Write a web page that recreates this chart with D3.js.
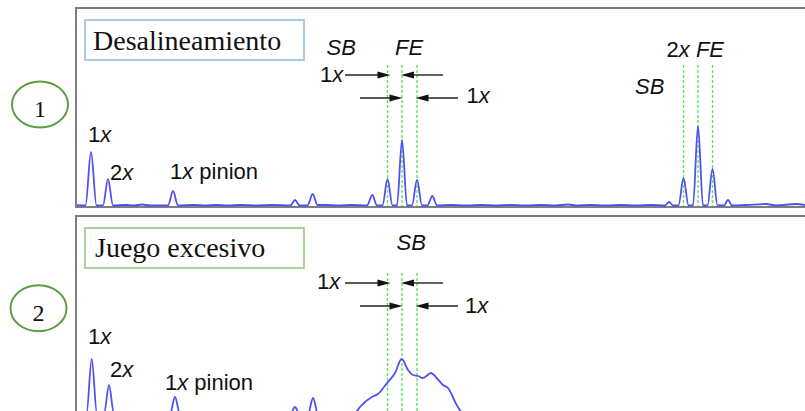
<!DOCTYPE html>
<html lang="es">
<head>
<meta charset="UTF-8">
<title>Desalineamiento y juego excesivo</title>
<script src="https://cdn.jsdelivr.net/npm/d3@7"></script>
<style>
  body { margin: 0; background: #fff; }
  svg { display: block; }
  .frame { fill: none; stroke: #7f7f7f; stroke-width: 2; }
  .spec { fill: none; stroke: #5050f2; stroke-width: 1.8; stroke-linejoin: round; }
  .marker { stroke: #5fe35f; stroke-width: 1.4; stroke-dasharray: 3, 2; }
  .arrow { stroke: #222; stroke-width: 1.4; }
  .head { fill: #111; }
  .lbl { font-family: "Liberation Sans", Arial, sans-serif; font-size: 22px; fill: #111; }
  .it { font-style: italic; }
  .title { font-family: "Liberation Serif", "Times New Roman", serif; font-size: 28px; fill: #111; }
  .num { font-family: "Liberation Serif", "Times New Roman", serif; font-size: 24px; fill: #111; }
</style>
</head>
<body>
<script>
// spectrum points [frequency, amplitude]
var spectrum1 = [
  [0,1],[9.5,0.5],[15,54],[20.5,0.5],[27,0.5],[32,27],[37,0.5],[50,1],[58,0.5],[66,1.5],[74,0.5],
  [92,0.5],[97,15],[102,0.5],[118,1],[130,0.5],[140,1],[152,0.5],[165,1],[180,0.5],[196,1],
  [214.5,0.5],[219,6],[223.5,0.5],[231.5,0.5],[236.7,12],[241.5,1],[250,1],[262,0.5],[275,1],
  [291,0.5],[296.3,11],[301,0.5],[306.5,0.5],[311.5,27],[316.5,0.5],[321,0.5],[326,66],[331,0.5],
  [336,0.5],[341,26],[346,0.5],[351.5,0.5],[356.3,10],[361,0.5],[375,1],[390,0.5],[405,1],
  [420,0.5],[435,1],[450,0.5],[465,1],[480,0.5],[492,1.5],[500,0.5],[515,1],[530,0.5],[545,1],
  [560,0.5],[575,1],[589,0.5],[593,4],[597,0.5],[602.5,0.5],[607.5,28],[612.5,0.5],[617,0.5],[622,80],
  [627,0.5],[631.5,0.5],[636.5,37],[641.5,0.5],[648,0.5],[652,6],[656,0.5],[670,1],[690,2],[700,0.5],
  [720,2],[735,0.5],[760,1]
];
var spectrum2 = [
  [0,1],[10.5,1],[15.7,56],[21,1],[28,1],[33,30],[38,1],[60,1],[94,1],[99,18],[104,1],
  [140,1],[214.5,1],[219,8],[223.5,1],[232,1],[237,17],[242,1],[272,1],[280,3],[284,8],
  [295.7,18],[302,21],[311,32],[319,42],[325.7,56],[332,45],[337,40],[342,39],[347,37],[355,42],
  [360.7,37],[367,30],[372,27],[380.7,10],[388,1],[500,1],[760,1]
];
// sideband / mesh frequency markers
var markers1 = [311.5, 326, 341, 607.5, 622, 636.5];
var markers2 = [311.5, 326, 341];
// arrows [tail, tip] in frequency units, upper and lower rows
var arrowsUpper = [[269, 314.5], [367, 325]];
var arrowsLower = [[284, 326.5], [382, 339.5]];
var panelTitles = ["Desalineamiento", "Juego excesivo"];
var panelNumbers = ["1", "2"];

var W = 805, H = 411;
var svg = d3.select("body").append("svg").attr("width", W).attr("height", H);

var x = d3.scaleLinear().domain([0, 800]).range([76, 876]);

var panels = [
  { top: 8, base: 206, axis: 207, data: spectrum1, markers: markers1, boxColor: "#8fb9e3", ell: [40, 104.5], numY: 117, titleX: 93, titleY: 50 },
  { top: 216, base: 415, axis: 416, data: spectrum2, markers: markers2, boxColor: "#8cc47a", ell: [38.5, 308.3], numY: 320.5, titleX: 95, titleY: 257 }
];

function arrowHead(g, tipX, y, dir) {
  // dir = +1 pointing right, -1 pointing left
  var L = 13, hw = 3.5;
  g.append("path").attr("class", "head")
    .attr("d", "M" + tipX + "," + y + "L" + (tipX - dir * L) + "," + (y - hw) + "L" + (tipX - dir * L) + "," + (y + hw) + "Z");
}

function addLabel(g, parts, px, py) {
  var t = g.append("text").attr("class", "lbl").attr("x", px).attr("y", py);
  parts.forEach(function (p) {
    t.append("tspan").attr("class", p[1] ? "it" : null).text(p[0]);
  });
  return t;
}

panels.forEach(function (p, i) {
  var y = d3.scaleLinear().domain([0, 100]).range([p.base, p.base - 100]);
  var g = svg.append("g");

  var clipId = "clip" + i;
  svg.append("clipPath").attr("id", clipId)
    .append("rect").attr("x", 77).attr("y", p.top).attr("width", W).attr("height", p.axis - p.top);

  // frame
  g.append("rect").attr("class", "frame")
    .attr("x", 76).attr("y", p.top).attr("width", W + 20).attr("height", p.axis - p.top);

  // markers
  g.append("g").attr("clip-path", "url(#" + clipId + ")")
    .selectAll("line").data(p.markers).enter().append("line")
    .attr("class", "marker")
    .attr("x1", function (d) { return x(d); }).attr("x2", function (d) { return x(d); })
    .attr("y1", p.top + 57).attr("y2", p.base);

  // spectrum
  var line = d3.line()
    .x(function (d) { return x(d[0]); })
    .y(function (d) { return y(d[1]); })
    .curve(d3.curveMonotoneX);
  g.append("path").attr("class", "spec").attr("clip-path", "url(#" + clipId + ")")
    .datum(p.data).attr("d", line);

  // arrows
  var yu = p.top + 67, yl = p.top + 90;
  arrowsUpper.forEach(function (a) {
    var dir = a[1] > a[0] ? 1 : -1;
    g.append("line").attr("class", "arrow")
      .attr("x1", x(a[0])).attr("x2", x(a[1]) - dir * 10).attr("y1", yu).attr("y2", yu);
    arrowHead(g, x(a[1]), yu, dir);
  });
  arrowsLower.forEach(function (a) {
    var dir = a[1] > a[0] ? 1 : -1;
    g.append("line").attr("class", "arrow")
      .attr("x1", x(a[0])).attr("x2", x(a[1]) - dir * 10).attr("y1", yl).attr("y2", yl);
    arrowHead(g, x(a[1]), yl, dir);
  });

  // title box
  g.append("rect").attr("x", 85).attr("y", p.top + 12).attr("width", 219).attr("height", 40)
    .attr("fill", "#fff").attr("stroke", p.boxColor).attr("stroke-width", 1.5);
  g.append("text").attr("class", "title").attr("x", p.titleX).attr("y", p.titleY).text(panelTitles[i]);

  // numbered ellipse
  svg.append("ellipse").attr("cx", p.ell[0]).attr("cy", p.ell[1]).attr("rx", 28).attr("ry", 23)
    .attr("fill", "none").attr("stroke", "#5e9e40").attr("stroke-width", 2);
  svg.append("text").attr("class", "num").attr("x", p.ell[0]).attr("y", p.numY)
    .attr("text-anchor", "middle").text(panelNumbers[i]);
});

// annotations panel 1
addLabel(svg, [["1"], ["x", 1]], 88, 141.5);
addLabel(svg, [["2"], ["x", 1]], 110, 180);
addLabel(svg, [["1"], ["x", 1], [" pinion"]], 170, 178.5);
addLabel(svg, [["SB", 1]], x(250.5), 55);
addLabel(svg, [["FE", 1]], x(319), 55);
addLabel(svg, [["1"], ["x", 1]], x(244), 82);
addLabel(svg, [["1"], ["x", 1]], x(390.5), 103);
addLabel(svg, [["2"], ["x", 1], [" "], ["FE", 1]], x(590.5), 57);
addLabel(svg, [["SB", 1]], x(559), 94);

// annotations panel 2
addLabel(svg, [["1"], ["x", 1]], 88, 343.5);
addLabel(svg, [["2"], ["x", 1]], 110, 377);
addLabel(svg, [["1"], ["x", 1], [" pinion"]], 165, 390);
addLabel(svg, [["SB", 1]], x(320.5), 250);
addLabel(svg, [["1"], ["x", 1]], x(241), 288.5);
addLabel(svg, [["1"], ["x", 1]], x(389), 313);
</script>
</body>
</html>
